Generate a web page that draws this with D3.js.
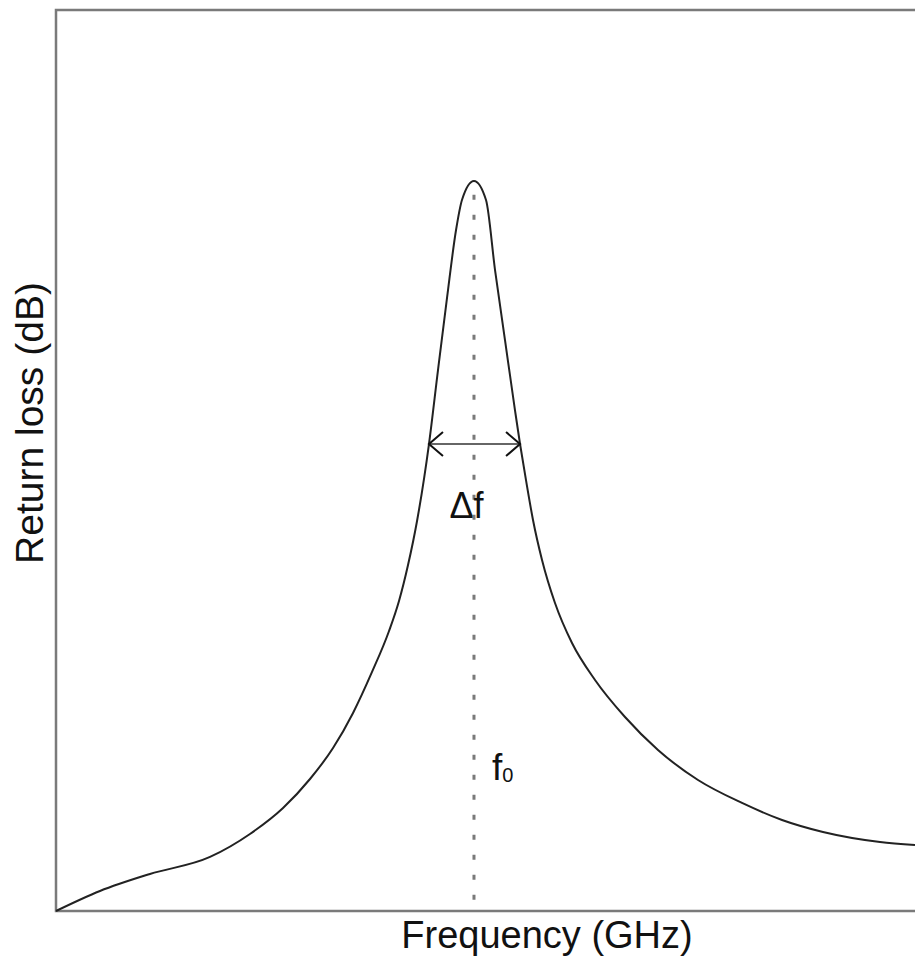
<!DOCTYPE html>
<html>
<head>
<meta charset="utf-8">
<script src="https://cdn.jsdelivr.net/npm/d3@7"></script>
<style>
  html, body { margin: 0; padding: 0; background: #fff; }
  svg { display: block; }
  text { font-family: "Liberation Sans", Arial, sans-serif; fill: #111; }
</style>
</head>
<body>
<svg id="chart" width="915" height="963"></svg>
<script>
// curve (arbitrary units, 0..100 on both axes)
var freq = [0, 5.12, 10.94, 17.93, 22.58, 26.43, 29.57, 32.25, 34.58, 36.79,
            38.77, 39.93, 40.98, 42.03, 43.42, 44.47, 45.52, 46.57, 47.26,
            48.66, 50.06, 51.11, 52.27, 53.43, 54.02, 54.71, 55.53, 56.58,
            58.09, 60.07, 62.75, 66.24, 70.08, 74.74, 79.86, 84.52, 89.29, 95.93, 100];
var returnLoss = [0, 2.22, 4.11, 6.0, 8.55, 11.43, 14.65, 18.09, 21.98, 26.53,
                  31.08, 34.41, 38.40, 43.29, 51.83, 60.04, 68.04, 75.58, 78.91,
                  81.02, 78.91, 71.14, 63.37, 55.60, 51.83, 47.84, 43.40, 38.96,
                  34.18, 29.74, 25.64, 21.53, 17.87, 14.54, 11.99, 10.10, 8.77, 7.66, 7.33];

// annotations
var f0 = 48.66;            // resonance
var f0Top = 79.5;          // dotted line starts just under the peak
var bandLow = 43.42, bandHigh = 54.02, bandLevel = 51.83;

var xLabel = "Frequency (GHz)";
var yLabel = "Return loss (dB)";

var svg = d3.select("#chart");

var x = d3.scaleLinear().domain([0, 100]).range([56, 915]);
var y = d3.scaleLinear().domain([0, 100]).range([911, 10]);

// frame (right side runs off the page)
svg.append("path")
    .attr("d", "M" + (x.range()[1] + 3) + "," + y(100) + "H" + x(0) + "V" + y(0) + "H" + (x.range()[1] + 3))
    .attr("fill", "none")
    .attr("stroke", "#7a7a7a")
    .attr("stroke-width", 2.5);

// dotted line at f0
svg.append("line")
    .attr("x1", x(f0)).attr("x2", x(f0))
    .attr("y1", y(f0Top)).attr("y2", y(0))
    .attr("stroke", "#7a7a7a")
    .attr("stroke-width", 3)
    .attr("stroke-dasharray", "5,15");

// curve
var pts = freq.map(function(d, i){ return [d, returnLoss[i]]; });
var line = d3.line()
    .x(function(d){ return x(d[0]); })
    .y(function(d){ return y(d[1]); })
    .curve(d3.curveMonotoneX);

svg.append("path")
    .datum(pts)
    .attr("d", line)
    .attr("fill", "none")
    .attr("stroke", "#222")
    .attr("stroke-width", 2);

// delta f arrow
var ay = y(bandLevel), ax1 = x(bandLow), ax2 = x(bandHigh);
svg.append("line")
    .attr("x1", ax1).attr("x2", ax2)
    .attr("y1", ay).attr("y2", ay)
    .attr("stroke", "#666")
    .attr("stroke-width", 2);
svg.append("path")
    .attr("d", "M" + (ax1 + 14) + "," + (ay - 12) + "L" + ax1 + "," + ay + "L" + (ax1 + 14) + "," + (ay + 12) +
               "M" + (ax2 - 14) + "," + (ay - 12) + "L" + ax2 + "," + ay + "L" + (ax2 - 14) + "," + (ay + 12))
    .attr("fill", "none")
    .attr("stroke", "#111")
    .attr("stroke-width", 2);

svg.append("text")
    .attr("x", (ax1 + ax2) / 2 - 8)
    .attr("y", 518)
    .attr("text-anchor", "middle")
    .style("font-size", "36px")
    .text("\u0394f");

var f0Text = svg.append("text")
    .attr("x", x(f0) + 18)
    .attr("y", 780)
    .style("font-size", "37px");
f0Text.append("tspan").text("f");
f0Text.append("tspan")
    .attr("dy", 2)
    .style("font-size", "20px")
    .text("0");

// axis labels
svg.append("text")
    .attr("x", 547)
    .attr("y", 948)
    .attr("text-anchor", "middle")
    .style("font-size", "38px")
    .text(xLabel);

svg.append("text")
    .attr("transform", "translate(43,423) rotate(-90)")
    .attr("text-anchor", "middle")
    .style("font-size", "39px")
    .text(yLabel);
</script>
</body>
</html>
